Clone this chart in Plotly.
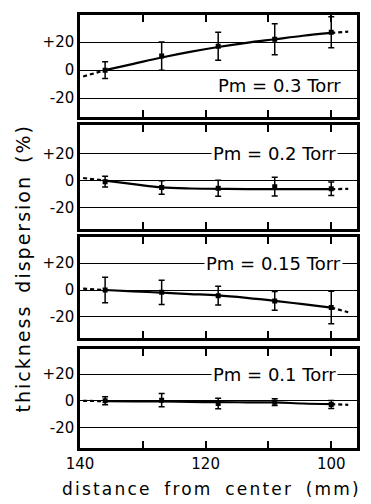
import plotly.graph_objects as go
from plotly.subplots import make_subplots

# ---- data ----
x_pts = [136, 127, 118, 109, 100]
curve_x = [139.5, 136, 131.5, 127, 122.5, 118, 113.5, 109, 104.5, 100, 97.3]

labels = ["Pm = 0.3 Torr", "Pm = 0.2 Torr", "Pm = 0.15 Torr", "Pm = 0.1 Torr"]

y_03 = [0, 10, 17, 22, 27]
e_03 = [6, 10, 10, 11, 11]
c_03 = [-4.5, 0, 4.5, 9, 13, 16.5, 19.5, 22, 24.5, 26.5, 27.5]

y_02 = [-0.7, -5, -5.6, -4.4, -6]
e_02 = [4, 5, 6, 7, 5]
c_02 = [2, 0, -2.5, -5, -5.8, -6, -6.2, -6.2, -6.3, -6.3, -6]

y_015 = [0, -1.7, -4.2, -8.1, -13]
e_015 = [9.5, 9, 7, 7, 12]
c_015 = [1, 0, -1, -2, -3, -4, -5.8, -8, -10.5, -13, -16.5]

y_01 = [0, 0.5, -2, -1, -2.7]
e_01 = [3, 5, 4, 2.5, 3]
c_01 = [0, -0.3, -0.4, -0.5, -0.8, -1, -1.1, -1.2, -2, -2.5, -3]

series = [(y_03, e_03, c_03), (y_02, e_02, c_02), (y_015, e_015, c_015), (y_01, e_01, c_01)]

x_ticks = [140, 130, 120, 110, 100]
x_ticktext = ["140", "", "120", "", "100"]
y_ticks = [-20, 0, 20]
y_ticktext = ["-20", "0", "+20"]

# ---- layout geometry ----
domains = [[0.765, 1.0], [0.5064, 0.7454], [0.2546, 0.4867], [0.0, 0.2281]]
yranges = [[-33.2, 39.3], [-35.6, 41.1], [-35.4, 39.1], [-35.3, 38.6]]
label_pos = [(98.1, -11, False), (99.0, 20, True), (98.1, 20, True), (99.0, 20, True)]

FONT = "DejaVu Sans"
fig = make_subplots(rows=4, cols=1)

for i, (yv, ev, cv) in enumerate(series):
    r = i + 1
    fig.add_trace(go.Scatter(x=curve_x[1:-1], y=cv[1:-1], mode="lines",
                             line=dict(color="black", width=2.2, shape="spline"),
                             showlegend=False, hoverinfo="skip"), row=r, col=1)
    fig.add_trace(go.Scatter(x=curve_x[:2], y=cv[:2], mode="lines",
                             line=dict(color="black", width=2.2, dash="4px,3px"),
                             showlegend=False, hoverinfo="skip"), row=r, col=1)
    fig.add_trace(go.Scatter(x=curve_x[-2:], y=cv[-2:], mode="lines",
                             line=dict(color="black", width=2.2, dash="4px,3px"),
                             showlegend=False, hoverinfo="skip"), row=r, col=1)
    fig.add_trace(go.Scatter(x=x_pts, y=yv, mode="markers",
                             marker=dict(symbol="square", size=5, color="black"),
                             error_y=dict(type="data", array=ev, visible=True,
                                          color="black", thickness=1.5, width=3),
                             showlegend=False), row=r, col=1)

    xa = "xaxis" if r == 1 else f"xaxis{r}"
    ya = "yaxis" if r == 1 else f"yaxis{r}"
    fig.layout[xa].update(range=[140, 95.9], tickvals=x_ticks, ticktext=x_ticktext,
                          ticks="inside", ticklen=7, tickwidth=1.5, tickcolor="black",
                          showline=True, linewidth=2.5, linecolor="black", mirror="ticks",
                          showgrid=False, zeroline=False, showticklabels=(r == 4),
                          tickfont=dict(family=FONT, size=15, color="black"))
    fig.layout[ya].update(range=yranges[i], domain=domains[i], tickvals=y_ticks,
                          ticktext=y_ticktext, ticks="", showgrid=True,
                          gridcolor="black", gridwidth=1.2, zeroline=False,
                          showline=True, linewidth=2.5, linecolor="black", mirror=True,
                          tickfont=dict(family=FONT, size=15, color="black"))

    lx, ly, bg = label_pos[i]
    fig.add_annotation(x=lx, y=ly, xref=f"x{'' if r == 1 else r}", yref=f"y{'' if r == 1 else r}",
                       text=labels[i], showarrow=False, xanchor="right", yanchor="middle",
                       font=dict(family=FONT, size=18, color="black"),
                       bgcolor="white" if bg else "rgba(0,0,0,0)", borderpad=1)

fig.add_annotation(x=0.473, y=-0.0947, xref="paper", yref="paper",
                   text='<span style="letter-spacing:2.2px;word-spacing:5px">distance from center (mm)</span>',
                   showarrow=False, xanchor="center", yanchor="middle",
                   font=dict(family=FONT, size=17, color="black"))
fig.add_annotation(x=-0.206, y=0.4145, xref="paper", yref="paper",
                   text='<span style="letter-spacing:2px;word-spacing:4px">thickness dispersion (%)</span>',
                   showarrow=False, textangle=-90,
                   xanchor="center", yanchor="middle",
                   font=dict(family=FONT, size=19, color="black"))

fig.update_layout(width=371, height=504, margin=dict(l=80, r=14, t=15, b=56),
                  plot_bgcolor="white", paper_bgcolor="white", showlegend=False)

fig.write_html("out.html")
